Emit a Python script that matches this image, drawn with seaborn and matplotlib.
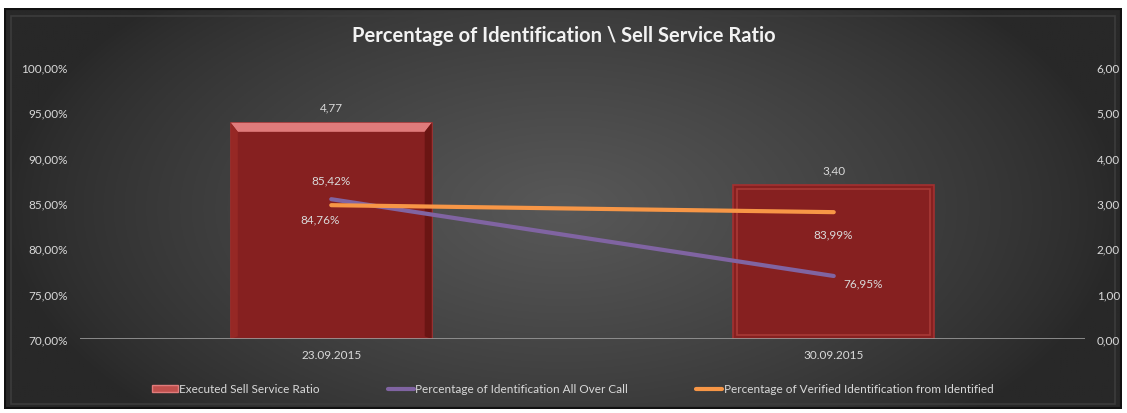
import numpy as np
import pandas as pd
import matplotlib
matplotlib.use("Agg")
import matplotlib.pyplot as plt
import seaborn as sns
from matplotlib.patches import Rectangle, Patch
from matplotlib.lines import Line2D
from matplotlib.ticker import FuncFormatter

# ---- data ----
dates = ["23.09.2015", "30.09.2015"]
sell_ratio = [4.77, 3.40]
ident_all = [85.42, 76.95]
ident_verified = [84.76, 83.99]
left_ticks = [70, 75, 80, 85, 90, 95, 100]
right_ticks = [0, 1, 2, 3, 4, 5, 6]
title = "Percentage of Identification \\ Sell Service Ratio"
legend_labels = ["Executed Sell Service Ratio",
                 "Percentage of Identification All Over Call",
                 "Percentage of Verified Identification from Identified"]

sns.set_theme(style="dark")
plt.rcParams["font.family"] = ["Lato", "DejaVu Sans"]
txt = "#d9d9d9"

W, H = 1127, 414
fig = plt.figure(figsize=(W / 100, H / 100), dpi=100)
fig.patch.set_facecolor("white")

# background frame with radial gradient
bg = fig.add_axes([4 / W, 1 - 410 / H, (1122 - 4) / W, (410 - 9) / H])
bg.set_axis_off()
yy, xx = np.mgrid[-1:1:200j, -1:1:600j]
r = np.sqrt((xx / 1.0) ** 2 + (yy / 1.5) ** 2)
img = np.clip(1 - r, 0, 1)
c0 = np.array([0x28, 0x28, 0x28]) / 255
c1 = np.array([0x58, 0x58, 0x58]) / 255
rgb = c0[None, None, :] + (c1 - c0)[None, None, :] * img[..., None] ** 0.8
bg.imshow(rgb, aspect="auto", extent=[0, 1, 0, 1])
bg.add_patch(Rectangle((0, 0), 1, 1, fill=False, ec="#111111", lw=3, transform=bg.transAxes))
bg.add_patch(Rectangle((0.006, 0.012), 0.988, 0.968, fill=False, ec="#3c3c3c", lw=1.2,
                       transform=bg.transAxes))

# main axes: bars (right scale)
ax = fig.add_axes([80 / W, 1 - 340 / H, (1085 - 80) / W, 272 / H])
ax.set_facecolor("none")
df = pd.DataFrame({"date": dates, "ratio": sell_ratio})
sns.barplot(data=df, x="date", y="ratio", ax=ax, width=0.4,
            color="#862020", edgecolor="#a33030", linewidth=1.2, saturation=1)
ax.set_ylim(0, 6)
ax.set_xlim(-0.5, 1.5)
ax.set_xlabel("")
ax.set_ylabel("")
# bevel effects
for i, p in enumerate(list(ax.patches)):
    x0, w, h = p.get_x(), p.get_width(), p.get_height()
    if i == 0:
        d, e = 0.2, 0.014
        ax.add_patch(plt.Polygon([[x0, h], [x0 + w, h], [x0 + w - e, h - d], [x0 + e, h - d]],
                                 closed=True, fc="#e07b7b", ec="none", zorder=3))
        ax.add_patch(plt.Polygon([[x0, 0], [x0 + e, 0.06], [x0 + e, h - d], [x0, h]],
                                 closed=True, fc="#962825", ec="none", zorder=3))
        ax.add_patch(plt.Polygon([[x0 + w, 0], [x0 + w - e, 0.06], [x0 + w - e, h - d], [x0 + w, h]],
                                 closed=True, fc="#6a1513", ec="none", zorder=3))
    else:
        e, d = 0.008, 0.09
        ax.add_patch(Rectangle((x0 + e, d), w - 2 * e, h - 2 * d, fill=False,
                               ec="#a83a36", lw=1.2, zorder=3))
for i, v in enumerate(sell_ratio):
    ax.text(i, v + 0.34, f"{v:.2f}".replace(".", ","), ha="center", va="center",
            color=txt, fontsize=8.5)
for s in ax.spines.values():
    s.set_visible(False)
ax.axhline(0, color="#9a9a9a", lw=1.2, zorder=5)
ax.grid(False)

# twin axes: lines (left scale)
ax2 = ax.twinx()
ax2.set_facecolor("none")
ld = pd.DataFrame({"x": [0, 1], "a": ident_all, "b": ident_verified})
sns.lineplot(data=ld, x="x", y="a", ax=ax2, color="#8064a2", lw=3, solid_capstyle="round")
sns.lineplot(data=ld, x="x", y="b", ax=ax2, color="#f79646", lw=3, solid_capstyle="round")
ax2.set_ylim(70, 100)
ax2.set_xlim(-0.5, 1.5)
ax2.set_xlabel("")
ax2.set_ylabel("")
ax2.grid(False)
for s in ax2.spines.values():
    s.set_visible(False)

# swap tick sides: bars scale on right, lines scale on left
ax.yaxis.tick_right()
ax2.yaxis.tick_left()
ax.set_yticks(right_ticks)
ax.yaxis.set_major_formatter(FuncFormatter(lambda v, p: f"{v:.2f}".replace(".", ",")))
ax2.set_yticks(left_ticks)
ax2.yaxis.set_major_formatter(FuncFormatter(lambda v, p: f"{v:.2f}%".replace(".", ",")))
ax.tick_params(axis="y", colors=txt, labelsize=8.5, length=0, pad=8.5, labelright=True, labelleft=False)
ax.tick_params(axis="x", colors=txt, labelsize=8.5, length=0, pad=7)
ax2.tick_params(axis="y", colors=txt, labelsize=8.5, length=0, pad=9, labelleft=True, labelright=False)

fmt = lambda v: f"{v:.2f}%".replace(".", ",")
fs = 8.5
ax2.text(0.0, ident_all[0] + 2.12, fmt(ident_all[0]), color=txt, fontsize=fs, ha="center", va="center")
ax2.text(-0.022, ident_verified[0] - 1.53, fmt(ident_verified[0]), color=txt, fontsize=fs, ha="center", va="center")
ax2.text(0.998, ident_verified[1] - 2.41, fmt(ident_verified[1]), color=txt, fontsize=fs, ha="center", va="center")
ax2.text(1.058, ident_all[1] - 0.77, fmt(ident_all[1]), color=txt, fontsize=fs, ha="center", va="center")

# title
fig.text(0.5, 1 - 36 / H, title, ha="center", va="center", color="#f2f2f2",
         fontsize=14.5, fontweight="bold")

# legend
handles = [Patch(fc="#c0504d", ec="#e07b7b"),
           Line2D([], [], color="#8064a2", lw=3),
           Line2D([], [], color="#f79646", lw=3)]
fig.legend(handles, legend_labels, loc="center", bbox_to_anchor=(0.508, 1 - 390 / H),
           ncol=3, frameon=False, fontsize=8.5, labelcolor=txt, handlelength=2.2,
           handletextpad=0.1, columnspacing=5.8, handleheight=0.5)

fig.savefig("out.png", dpi=100, facecolor=fig.get_facecolor())
